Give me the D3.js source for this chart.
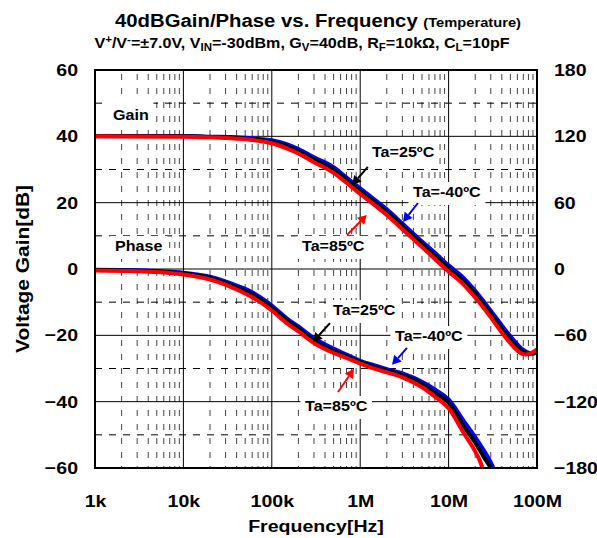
<!DOCTYPE html>
<html>
<head>
<meta charset="utf-8">
<script src="https://cdnjs.cloudflare.com/ajax/libs/d3/7.8.5/d3.min.js"></script>
<style>
body { margin: 0; background: white; }
text { font-family: Arial, "Liberation Sans", sans-serif; font-weight: bold; fill: black; }
</style>
</head>
<body>
<svg id="chart" width="597" height="538"></svg>
<script>
// axis ticks
let freqTicks = [1e3, 1e4, 1e5, 1e6, 1e7, 1e8];
let freqLabels = ["1k", "10k", "100k", "1M", "10M", "100M"];
let gainTicks = [60, 40, 20, 0, -20, -40, -60];
let phaseTicks = [180, 120, 60, 0, -60, -120, -180];

// gain [Hz, dB]
let gain25 = [[1e3,40],[3e3,40],[1e4,40],[2e4,39.8],[4e4,39.5],[6e4,39.2],[1e5,38.4],[1.5e5,37],[2e5,35.5],[3e5,33],[5e5,29.9],[7e5,26.8],[1e6,23.5],[1.5e6,19.8],[2e6,17.2],[3e6,12.9],[5e6,7.5],[7e6,4],[1e7,0.2],[1.4e7,-3],[2e7,-7.5],[3e7,-13.5],[4e7,-18],[5.5e7,-22.5],[7e7,-25],[8e7,-25.6],[9e7,-25.5],[1e8,-25]];
let gain85 = [[1e3,40],[1e4,39.9],[2e4,39.7],[4e4,39.3],[6e4,38.9],[1e5,37.9],[1.5e5,36.3],[2e5,34.8],[3e5,32.2],[5e5,29],[7e5,26],[1e6,22.6],[1.5e6,19],[2e6,16.3],[3e6,12],[5e6,6.6],[7e6,3],[1e7,-0.8],[1.4e7,-4.1],[2e7,-8.6],[3e7,-14.6],[4e7,-19.2],[5.5e7,-23.6],[6.5e7,-25.3],[7.5e7,-25.8],[8.5e7,-25.4],[1e8,-24.2]];
let gainM40 = [[1e3,40.1],[1e4,40.1],[2e4,39.9],[4e4,39.7],[6e4,39.4],[1e5,38.8],[1.5e5,37.6],[2e5,36.2],[3e5,33.7],[5e5,30.7],[7e5,27.6],[1e6,24.3],[1.5e6,20.6],[2e6,18],[3e6,13.7],[5e6,8.3],[7e6,4.9],[1e7,1.1],[1.4e7,-2.1],[2e7,-6.6],[3e7,-12.6],[4e7,-17],[5.5e7,-21.6],[7e7,-24.4],[8e7,-25.2],[9e7,-25.4],[1e8,-25.2]];

// phase [Hz, deg]
let phase25 = [[1e3,-1],[3e3,-1.5],[5e3,-2.2],[1e4,-4],[2e4,-8],[4e4,-16.5],[6e4,-23],[1e5,-35],[1.5e5,-47],[2e5,-54],[3e5,-65],[5e5,-74],[7e5,-79],[1e6,-84],[1.5e6,-89],[2e6,-92],[3e6,-96],[5e6,-104],[7e6,-112],[1e7,-121],[1.5e7,-143],[2e7,-157],[2.5e7,-170],[3e7,-180],[3.1e7,-182]];
let phase85 = [[1e3,-1.3],[3e3,-2],[5e3,-2.8],[1e4,-5],[2e4,-9.5],[4e4,-18.5],[6e4,-25.5],[1e5,-37.5],[1.5e5,-49.5],[2e5,-56.5],[3e5,-67],[5e5,-76],[7e5,-80.5],[1e6,-85.5],[1.5e6,-90.5],[2e6,-93.5],[3e6,-98],[5e6,-107],[7e6,-115.5],[1e7,-126],[1.5e7,-149],[2e7,-165],[2.3e7,-175],[2.45e7,-182]];
let phaseM40 = [[1e3,-0.7],[3e3,-1.1],[5e3,-1.8],[1e4,-3.3],[2e4,-7],[4e4,-15],[6e4,-21],[1e5,-33],[1.5e5,-45],[2e5,-52],[3e5,-62.5],[5e5,-72],[7e5,-77.5],[1e6,-83],[1.5e6,-87.5],[2e6,-90.5],[3e6,-94.5],[5e6,-102],[7e6,-109],[1e7,-118],[1.5e7,-138],[2e7,-152],[2.5e7,-164],[3e7,-175],[3.3e7,-182]];

let svg = d3.select("#chart");
let pLeft = 95, pRight = 537, pTop = 70, pBottom = 468;
let wide = 1.15; // the original's lettering is drawn a bit wider than normal

let x = d3.scaleLog().domain([1e3, 1e8]).range([pLeft, pRight]);
let yGain = d3.scaleLinear().domain([-60, 60]).range([pBottom, pTop]);
let yPhase = d3.scaleLinear().domain([-180, 180]).range([pBottom, pTop]);

// widen a text horizontally around its own anchor point
function stretch(sel, k) {
	sel.each(function() {
		let t = d3.select(this);
		let ax = +t.attr("x") || 0, ay = +t.attr("y") || 0;
		t.attr("transform", "translate(" + ax + "," + ay + ") scale(" + k + ",1) translate(" + (-ax) + "," + (-ay) + ")");
	});
}

// grid
let minorFreqs = [];
[1e3, 1e4, 1e5, 1e6, 1e7].forEach(function(d) {
	for (let m = 2; m <= 9; m++) minorFreqs.push(d * m);
});

let grid = svg.append("g");
grid.selectAll(".vminor")
	.data(minorFreqs)
	.enter().append("line")
	.attr("x1", function(d) { return x(d); })
	.attr("x2", function(d) { return x(d); })
	.attr("y1", pTop)
	.attr("y2", pBottom)
	.attr("stroke", "#444")
	.attr("stroke-dasharray", "6,8")
	.attr("stroke-dashoffset", -4);

grid.selectAll(".hminor")
	.data([50, 30, 10, -10, -30, -50])
	.enter().append("line")
	.attr("x1", pLeft)
	.attr("x2", pRight)
	.attr("y1", function(d) { return yGain(d); })
	.attr("y2", function(d) { return yGain(d); })
	.attr("stroke", "black")
	.attr("stroke-dasharray", "7,7");

grid.selectAll(".vmajor")
	.data(freqTicks.slice(1, 5))
	.enter().append("line")
	.attr("x1", function(d) { return x(d); })
	.attr("x2", function(d) { return x(d); })
	.attr("y1", pTop)
	.attr("y2", pBottom)
	.attr("stroke", "black");

grid.selectAll(".hmajor")
	.data(gainTicks.slice(1, 6))
	.enter().append("line")
	.attr("x1", pLeft)
	.attr("x2", pRight)
	.attr("y1", function(d) { return yGain(d); })
	.attr("y2", function(d) { return yGain(d); })
	.attr("stroke", "black");

// labels with white box
function boxedLabel(tx, ty, txt, padTop) {
	let g = svg.append("g").attr("x", tx).attr("y", ty);
	let t = g.append("text")
		.attr("x", tx)
		.attr("y", ty)
		.style("font-size", "14px")
		.text(txt);
	let b = t.node().getBBox();
	g.insert("rect", "text")
		.attr("x", b.x - 4)
		.attr("y", b.y - padTop)
		.attr("width", b.width + 8)
		.attr("height", b.height + padTop + 5)
		.attr("fill", "white");
	stretch(g, wide);
}

boxedLabel(113, 120, "Gain", 8);
boxedLabel(115, 251, "Phase", 2);
boxedLabel(372, 157, "Ta=25ºC", 2);
boxedLabel(413, 197, "Ta=-40ºC", 2);
boxedLabel(302, 251, "Ta=85ºC", 2);
boxedLabel(333, 315, "Ta=25ºC", 2);
boxedLabel(395, 341, "Ta=-40ºC", 2);
boxedLabel(305, 411, "Ta=85ºC", 2);

// curves
svg.append("clipPath").attr("id", "plotClip")
	.append("rect")
	.attr("x", pLeft).attr("y", pTop)
	.attr("width", pRight - pLeft).attr("height", pBottom - pTop);

let gainLine = d3.line()
	.x(function(d) { return x(d[0]); })
	.y(function(d) { return yGain(d[1]); })
	.curve(d3.curveMonotoneX);

let phaseLine = d3.line()
	.x(function(d) { return x(d[0]); })
	.y(function(d) { return yPhase(d[1]); })
	.curve(d3.curveMonotoneX);

let curves = svg.append("g").attr("clip-path", "url(#plotClip)");
let series = [
	{ gain: gainM40, phase: phaseM40, color: "#0000ff" },
	{ gain: gain25, phase: phase25, color: "black" },
	{ gain: gain85, phase: phase85, color: "#ff0000" }
];
series.forEach(function(s) {
	curves.append("path")
		.attr("d", gainLine(s.gain))
		.attr("fill", "none")
		.attr("stroke", s.color)
		.attr("stroke-width", 4);
	curves.append("path")
		.attr("d", phaseLine(s.phase))
		.attr("fill", "none")
		.attr("stroke", s.color)
		.attr("stroke-width", 4);
});

// arrows [from, to] in Hz / dB
let arrows = [
	{ from: [1.22e6, 30.8], to: [8.1e5, 25.3], color: "black" },
	{ from: [4.5e6, 19.9], to: [3.05e6, 14.2], color: "#0000ff" },
	{ from: [7.1e5, 10.3], to: [1.19e6, 16.3], color: "#ff0000" },
	{ from: [4.55e5, -16.3], to: [2.92e5, -22], color: "black" },
	{ from: [3.38e6, -23.8], to: [2.29e6, -28.9], color: "#0000ff" },
	{ from: [5.61e5, -37.1], to: [8.51e5, -30.1], color: "#ff0000" }
];
arrows.forEach(function(a) {
	let x1 = x(a.from[0]), y1 = yGain(a.from[1]);
	let x2 = x(a.to[0]), y2 = yGain(a.to[1]);
	let ang = Math.atan2(y2 - y1, x2 - x1);
	let hl = 9, hw = 5;
	let bx = x2 - hl * Math.cos(ang), by = y2 - hl * Math.sin(ang);
	svg.append("line")
		.attr("x1", x1).attr("y1", y1)
		.attr("x2", bx).attr("y2", by)
		.attr("stroke", a.color)
		.attr("stroke-width", 2);
	svg.append("polygon")
		.attr("points", [
			[x2, y2],
			[bx + hw * Math.sin(ang), by - hw * Math.cos(ang)],
			[bx - hw * Math.sin(ang), by + hw * Math.cos(ang)]
		].map(function(p) { return p.join(","); }).join(" "))
		.attr("fill", a.color);
});

// frame
svg.append("rect")
	.attr("x", pLeft).attr("y", pTop)
	.attr("width", pRight - pLeft).attr("height", pBottom - pTop)
	.attr("fill", "none")
	.attr("stroke", "black")
	.attr("stroke-width", 2);

// axes
let axisL = svg.append("g")
	.attr("transform", "translate(" + pLeft + ",0)")
	.call(d3.axisLeft(yGain).tickValues(gainTicks).tickSize(0).tickPadding(17));
let axisR = svg.append("g")
	.attr("transform", "translate(" + pRight + ",0)")
	.call(d3.axisRight(yPhase).tickValues(phaseTicks).tickSize(0).tickPadding(17));
let axisB = svg.append("g")
	.attr("transform", "translate(0," + pBottom + ")")
	.call(d3.axisBottom(x).tickValues(freqTicks).tickSize(0).tickPadding(27)
		.tickFormat(function(d, i) { return freqLabels[i]; }));

[axisL, axisR, axisB].forEach(function(a) {
	a.select(".domain").remove();
	a.selectAll("text")
		.style("font-family", "Arial, 'Liberation Sans', sans-serif")
		.style("font-weight", "bold")
		.style("font-size", "17px")
		.attr("fill", "black")
		.call(stretch, wide);
});

// titles
let title = svg.append("text")
	.attr("x", 318)
	.attr("y", 27)
	.style("text-anchor", "middle")
	.style("font-size", "18px");
title.append("tspan").text("40dBGain/Phase vs. Frequency ");
title.append("tspan").style("font-size", "13px").text("(Temperature)");
stretch(title, 1.13);

// subtitle pieces: 0 normal, 1 superscript, -1 subscript
let subParts = [
	["V", 0], ["+", 1], ["/V", 0], ["-", 1], ["=±7.0V, V", 0], ["IN", -1],
	["=-30dBm, G", 0], ["V", -1], ["=40dB, R", 0], ["F", -1], ["=10kΩ, C", 0], ["L", -1], ["=10pF", 0]
];
let sub = svg.append("text")
	.attr("x", 302)
	.attr("y", 48)
	.style("text-anchor", "middle")
	.style("font-size", "14px");
subParts.forEach(function(p, i) {
	let prev = i > 0 ? subParts[i - 1][1] : 0;
	let dy = 0;
	if (p[1] == 1) dy = -5;
	if (p[1] == -1) dy = 3;
	if (prev == 1) dy += 5;
	if (prev == -1) dy -= 3;
	let ts = sub.append("tspan").attr("dy", dy).text(p[0]);
	if (p[1] != 0) ts.style("font-size", "10px");
});
stretch(sub, 1.15);

let xTitle = svg.append("text")
	.attr("x", (pLeft + pRight) / 2)
	.attr("y", 532)
	.style("text-anchor", "middle")
	.style("font-size", "17px")
	.text("Frequency[Hz]");
stretch(xTitle, wide);

svg.append("text")
	.attr("transform", "translate(29," + ((pTop + pBottom) / 2) + ") rotate(-90) scale(1.1,1)")
	.style("text-anchor", "middle")
	.style("font-size", "19px")
	.text("Voltage Gain[dB]");
</script>
</body>
</html>
